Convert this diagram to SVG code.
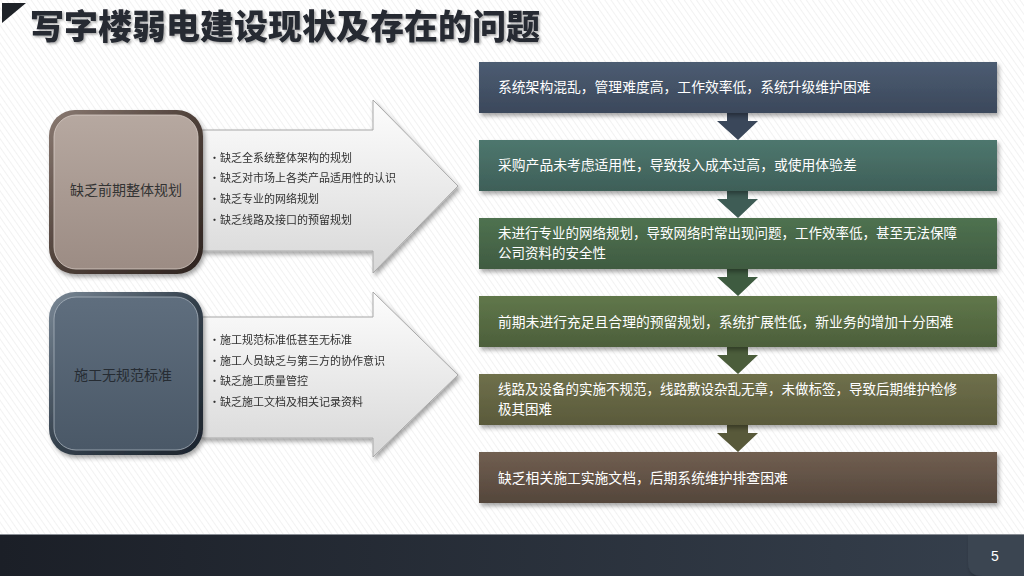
<svg xmlns="http://www.w3.org/2000/svg" width="1024" height="576" viewBox="0 0 1024 576">
<defs>
<pattern id="hatch" width="5" height="5" patternUnits="userSpaceOnUse" patternTransform="rotate(-35)">
<rect width="5" height="5" fill="#ffffff"/>
<line x1="0" y1="0" x2="0" y2="5" stroke="#e6e6e6" stroke-width="1"/>
</pattern>
<filter id="sh" x="-10%" y="-10%" width="130%" height="140%">
<feDropShadow dx="2" dy="3" stdDeviation="2" flood-color="#000" flood-opacity="0.35"/>
</filter>
<filter id="tsh" x="-5%" y="-20%" width="110%" height="150%">
<feDropShadow dx="1.5" dy="1.5" stdDeviation="1" flood-color="#000" flood-opacity="0.35"/>
</filter>
<linearGradient id="footer" x1="0" y1="0" x2="1" y2="0">
<stop offset="0" stop-color="#1b1f27"/>
<stop offset="1" stop-color="#36404d"/>
</linearGradient>
<linearGradient id="arrowFill" x1="0" y1="0" x2="0" y2="1">
<stop offset="0" stop-color="#fdfdfd"/>
<stop offset="1" stop-color="#d8d8d8"/>
</linearGradient>
<linearGradient id="brownBevel" x1="0" y1="0" x2="1" y2="1">
<stop offset="0" stop-color="#8a7a72"/>
<stop offset="0.5" stop-color="#4e4039"/>
<stop offset="1" stop-color="#2e2420"/>
</linearGradient>
<linearGradient id="brownFill" x1="0" y1="0" x2="0" y2="1">
<stop offset="0" stop-color="#b6a8a0"/>
<stop offset="1" stop-color="#9c8c84"/>
</linearGradient>
<linearGradient id="slateBevel" x1="0" y1="0" x2="1" y2="1">
<stop offset="0" stop-color="#7a8896"/>
<stop offset="0.5" stop-color="#34404c"/>
<stop offset="1" stop-color="#1c242c"/>
</linearGradient>
<linearGradient id="slateFill" x1="0" y1="0" x2="0" y2="1">
<stop offset="0" stop-color="#5f6e7e"/>
<stop offset="1" stop-color="#4a5867"/>
</linearGradient>
<linearGradient id="g1" x1="0" y1="0" x2="0" y2="1"><stop offset="0" stop-color="#4c5c72"/><stop offset="1" stop-color="#3b485b"/></linearGradient>
<linearGradient id="g2" x1="0" y1="0" x2="0" y2="1"><stop offset="0" stop-color="#4e776e"/><stop offset="1" stop-color="#3e5f58"/></linearGradient>
<linearGradient id="g3" x1="0" y1="0" x2="0" y2="1"><stop offset="0" stop-color="#4f7250"/><stop offset="1" stop-color="#3f5b41"/></linearGradient>
<linearGradient id="g4" x1="0" y1="0" x2="0" y2="1"><stop offset="0" stop-color="#60774a"/><stop offset="1" stop-color="#4c5f3b"/></linearGradient>
<linearGradient id="g5" x1="0" y1="0" x2="0" y2="1"><stop offset="0" stop-color="#6f704b"/><stop offset="1" stop-color="#5a5a3b"/></linearGradient>
<linearGradient id="g6" x1="0" y1="0" x2="0" y2="1"><stop offset="0" stop-color="#715f51"/><stop offset="1" stop-color="#54463b"/></linearGradient>
</defs>
<style>
.title{font-family:"Noto Sans CJK SC","Noto Sans",sans-serif;font-size:34px;font-weight:900;fill:#262a32}
.lbl{font-family:"Noto Sans CJK SC",sans-serif;font-size:14px;fill:#333333}
.bul{font-family:"Noto Sans CJK SC",sans-serif;font-size:11px;fill:#303030}
.box{font-family:"Noto Sans CJK SC",sans-serif;font-size:13.8px;fill:#ffffff}
.box2{font-family:"Noto Sans CJK SC",sans-serif;font-size:13.5px;fill:#ffffff}
.big{stroke:#a8a8a8;stroke-width:1;fill:url(#arrowFill)}
.pg{font-family:"Liberation Sans",sans-serif;font-size:14px;fill:#ffffff}
</style>

<rect width="1024" height="576" fill="url(#hatch)"/>

<g id="header">
<polygon points="2,3 26,3 2,23" fill="#1e2228"/>
<text class="title" x="30" y="39" filter="url(#tsh)">写字楼弱电建设现状及存在的问题</text>
</g>

<g id="footer-bar">
<rect x="0" y="534" width="1024" height="42" fill="url(#footer)"/>
<line x1="0" y1="534.5" x2="1024" y2="534.5" stroke="#8a8f96" stroke-width="1"/>
<path d="M968,535 H1024 V576 H982 Q968,576 968,562 Z" fill="#3a4451" filter="url(#sh)"/>
<text class="pg" x="995" y="561" text-anchor="middle">5</text>
</g>

<g id="detail1" filter="url(#sh)">
<polygon class="big" points="200,130 373,130 373,100 458,186 373,273 373,251 200,251"/>
<text class="bul" x="209" y="162">•缺乏全系统整体架构的规划</text>
<text class="bul" x="209" y="182">•缺乏对市场上各类产品适用性的认识</text>
<text class="bul" x="209" y="203">•缺乏专业的网络规划</text>
<text class="bul" x="209" y="224">•缺乏线路及接口的预留规划</text>
</g>

<g id="cause1">
<rect x="49" y="110" width="154" height="164" rx="26" fill="url(#brownBevel)" filter="url(#sh)"/>
<rect x="54" y="115" width="144" height="154" rx="22" fill="url(#brownFill)" stroke="#d9cec8" stroke-width="0.8"/>
<text class="lbl" x="126" y="195" text-anchor="middle">缺乏前期整体规划</text>
</g>

<g id="detail2" filter="url(#sh)">
<polygon class="big" points="200,317 373,317 373,292 458,375 373,457 373,438 200,438"/>
<text class="bul" x="209" y="344">•施工规范标准低甚至无标准</text>
<text class="bul" x="209" y="365">•施工人员缺乏与第三方的协作意识</text>
<text class="bul" x="209" y="385">•缺乏施工质量管控</text>
<text class="bul" x="209" y="406">•缺乏施工文档及相关记录资料</text>
</g>

<g id="cause2">
<rect x="49" y="292" width="154" height="163" rx="26" fill="url(#slateBevel)" filter="url(#sh)"/>
<rect x="54" y="297" width="144" height="153" rx="22" fill="url(#slateFill)" stroke="#a9b4be" stroke-width="0.8"/>
<text class="lbl" x="123" y="380" text-anchor="middle" style="fill:#262c33">施工无规范标准</text>
</g>

<g id="connectors">
<polygon points="727,112 748,112 748,121 758,121 738,140 717,121 727,121" fill="#3a475a"/>
<polygon points="727,190 748,190 748,199 758,199 738,218 717,199 727,199" fill="#3e5c55"/>
<polygon points="727,268 748,268 748,277 758,277 738,296 717,277 727,277" fill="#3e5b40"/>
<polygon points="727,346 748,346 748,355 758,355 738,374 717,355 727,355" fill="#4b5d3b"/>
<polygon points="727,424 748,424 748,433 758,433 738,452 717,433 727,433" fill="#58593a"/>
</g>

<g id="effect1">
<rect x="479" y="62" width="518" height="51" fill="url(#g1)" filter="url(#sh)"/>
<text class="box" x="498" y="92">系统架构混乱，管理难度高，工作效率低，系统升级维护困难</text>
</g>
<g id="effect2">
<rect x="479" y="140" width="518" height="51" fill="url(#g2)" filter="url(#sh)"/>
<text class="box" x="498" y="170">采购产品未考虑适用性，导致投入成本过高，或使用体验差</text>
</g>
<g id="effect3">
<rect x="479" y="218" width="518" height="51" fill="url(#g3)" filter="url(#sh)"/>
<text class="box2" x="498" y="238">未进行专业的网络规划，导致网络时常出现问题，工作效率低，甚至无法保障</text>
<text class="box2" x="498" y="258">公司资料的安全性</text>
</g>
<g id="effect4">
<rect x="479" y="296" width="518" height="51" fill="url(#g4)" filter="url(#sh)"/>
<text class="box" x="498" y="327">前期未进行充足且合理的预留规划，系统扩展性低，新业务的增加十分困难</text>
</g>
<g id="effect5">
<rect x="479" y="374" width="518" height="51" fill="url(#g5)" filter="url(#sh)"/>
<text class="box2" x="498" y="394">线路及设备的实施不规范，线路敷设杂乱无章，未做标签，导致后期维护检修</text>
<text class="box2" x="498" y="414">极其困难</text>
</g>
<g id="effect6">
<rect x="479" y="452" width="518" height="51" fill="url(#g6)" filter="url(#sh)"/>
<text class="box" x="498" y="483">缺乏相关施工实施文档，后期系统维护排查困难</text>
</g>
</svg>
